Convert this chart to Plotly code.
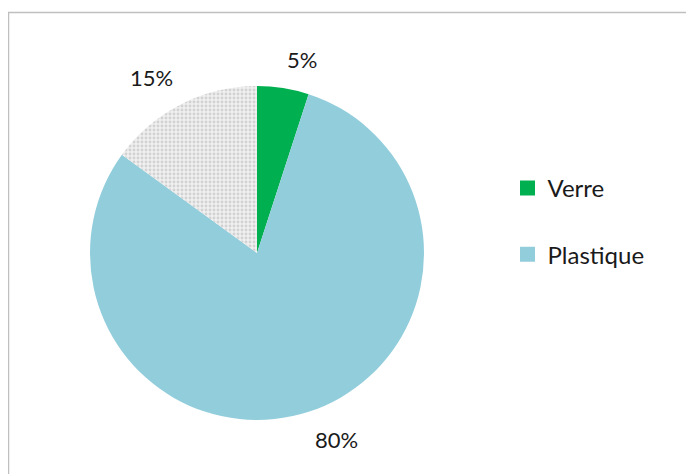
import math
import plotly.graph_objects as go

# ---- data ----
labels = ["Verre", "Plastique", "Autre"]
values = [5, 80, 15]
colors = ["#00B050", "#92CDDC", "#EDEDED"]
legend_labels = ["Verre", "Plastique"]
legend_colors = ["#00B050", "#92CDDC"]

# the page body adds an 8px margin, so the figure is drawn 8px in from the window
OFF = 8
W, H = 694 - OFF, 474 - OFF


def fx(px):  # window pixel x -> paper x
    return (px - OFF) / W


def fy(py):  # window pixel y -> paper y
    return 1 - (py - OFF) / H


# pie placement (window pixels)
px_left, px_right, px_top, px_bottom = 90, 424, 86, 420
dom_x = [fx(px_left), fx(px_right)]
dom_y = [fy(px_bottom), fy(px_top)]

FONT = "Lato"

fig = go.Figure()
fig.add_trace(go.Pie(
    labels=labels,
    values=values,
    sort=False,
    direction="clockwise",
    rotation=0,
    marker=dict(
        colors=colors,
        line=dict(width=0),
        pattern=dict(
            shape=["", "", "."],
            fgcolor="#d2d2d2",
            bgcolor="#f0f0f0",
            size=4,
            solidity=0.4,
        ),
    ),
    textinfo="none",
    hoverinfo="label+percent",
    showlegend=False,
    domain=dict(x=dom_x, y=dom_y),
))

# legend entries (only Verre and Plastique appear in the reference legend)
for i, (lab, col) in enumerate(zip(legend_labels, legend_colors)):
    fig.add_trace(go.Scatter(
        x=[None], y=[None], mode="markers", name=lab,
        marker=dict(symbol="square", size=15, color=col),
        legendgroup=f"g{i}", showlegend=True,
    ))

# percentage labels placed outside the slices, from cumulative values
cx = (px_left + px_right) / 2
cy = (px_top + px_bottom) / 2
R = (px_right - px_left) / 2
total = sum(values)
cum = 0
annotations = []
for v in values:
    mid = (cum + v / 2) / total * 2 * math.pi
    cum += v
    dist = R * 1.078
    sx, sy = math.sin(mid), -math.cos(mid)
    x = cx + sx * dist
    y = cy + sy * dist
    annotations.append(dict(
        x=fx(x), y=fy(y), xref="paper", yref="paper",
        text=f"{round(v / total * 100)}%", showarrow=False,
        xanchor="left" if sx > 0 else "right",
        yanchor="top" if sy > 0 else "bottom",
        font=dict(family=FONT, size=22, color="#1a1a1a"),
    ))

fig.update_layout(
    width=W, height=H,
    margin=dict(l=0, r=0, t=0, b=0),
    paper_bgcolor="white",
    plot_bgcolor="white",
    xaxis=dict(visible=False),
    yaxis=dict(visible=False),
    legend=dict(
        x=fx(507.5), y=fy(166), xanchor="left", yanchor="top",
        font=dict(family=FONT, size=24, color="#1a1a1a"),
        tracegroupgap=32,
        bgcolor="rgba(0,0,0,0)",
    ),
    annotations=annotations,
    shapes=[dict(
        type="rect", xref="paper", yref="paper",
        x0=fx(8.5), x1=1.05, y0=-0.05, y1=fy(12.5),
        line=dict(color="#BFBFBF", width=1.5), fillcolor="rgba(0,0,0,0)",
        layer="below",
    )],
)

fig.write_html("out.html")
